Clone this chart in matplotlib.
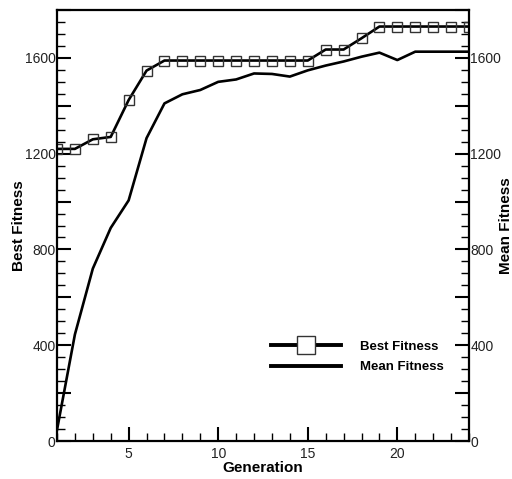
import matplotlib
matplotlib.use("Agg")
import matplotlib.pyplot as plt
from matplotlib.lines import Line2D
from matplotlib.ticker import MultipleLocator, FuncFormatter

generations = list(range(1, 25))
best_fitness = [1220, 1220, 1260, 1270, 1424, 1547, 1589, 1589, 1589, 1589, 1589, 1589,
                1589, 1589, 1589, 1635, 1635, 1682, 1731, 1731, 1731, 1731, 1731, 1731]
mean_fitness = [46, 445, 720, 890, 1005, 1265, 1410, 1448, 1466, 1500, 1510, 1535,
                1533, 1522, 1548, 1568, 1585, 1605, 1622, 1591, 1626, 1626, 1626, 1626]

narrow = ['Liberation Sans Narrow', 'Liberation Sans', 'DejaVu Sans']
plt.rcParams['font.family'] = narrow

fig = plt.figure(figsize=(5.12, 4.79), dpi=100)
ax = fig.add_axes([0.1113, 0.0793, 0.8047, 0.8998])

ax.plot(generations, best_fitness, color='black', lw=1.9, marker='s', ms=7,
        mfc='none', mec='#333333', mew=1.0)
ax.plot(generations, mean_fitness, color='black', lw=1.9)

ax.set_xlim(1, 24)
ax.set_ylim(0, 1800)

ax.xaxis.set_major_locator(MultipleLocator(5))
ax.xaxis.set_minor_locator(MultipleLocator(1))
ax.yaxis.set_major_locator(MultipleLocator(200))
ax.yaxis.set_minor_locator(MultipleLocator(50))
ax.yaxis.set_major_formatter(FuncFormatter(lambda v, p: f'{int(v)}' if v % 400 == 0 else ''))

ax.tick_params(which='major', direction='in', length=10, width=1.5, labelsize=10,
               labelcolor='#222222', pad=1)
ax.tick_params(axis='x', which='major', pad=4)
ax.tick_params(which='minor', direction='in', length=6, width=1.0)
ax.tick_params(axis='y', which='both', right=True, labelright=True)
ax.tick_params(axis='x', which='both', top=False)

for s in ax.spines.values():
    s.set_linewidth(1.6)

ax.set_xlabel('Generation', family=['Liberation Sans', 'DejaVu Sans'],
              fontweight='bold', fontsize=11, labelpad=0)
ax.set_ylabel('Best Fitness', family=['Liberation Sans', 'DejaVu Sans'],
              fontweight='bold', fontsize=11, labelpad=-1)
fig.text(0.988, 0.53, 'Mean Fitness', family=['Liberation Sans', 'DejaVu Sans'],
         fontweight='bold', fontsize=11, rotation=90, va='center', ha='center')

handles = [Line2D([], [], color='black', lw=2.8, marker='s', ms=13, mfc='white',
                  mec='#333333', mew=1.0),
           Line2D([], [], color='black', lw=2.8)]
ax.legend(handles, ['Best Fitness', 'Mean Fitness'], frameon=False,
          loc='center left', bbox_to_anchor=(0.49, 0.195), handlelength=5.3,
          handletextpad=1.5, labelspacing=0.65,
          prop={'family': narrow, 'weight': 'bold', 'size': 9.5})

fig.savefig('out.png', dpi=100)
